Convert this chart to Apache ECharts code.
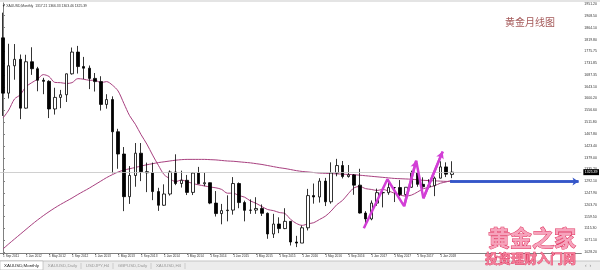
<!DOCTYPE html>
<html><head><meta charset="utf-8">
<script src="https://cdn.jsdelivr.net/npm/echarts@6/dist/echarts.min.js"></script>
<style>html,body{margin:0;padding:0;background:#fff}#c{width:600px;height:270px}</style>
</head><body><div id="c"></div>
<script>
const months = ["1 Sep 2011","1 Oct 2011","1 Nov 2011","1 Dec 2011","1 Jan 2012","1 Feb 2012","1 Mar 2012","1 Apr 2012","1 May 2012","1 Jun 2012","1 Jul 2012","1 Aug 2012","1 Sep 2012","1 Oct 2012","1 Nov 2012","1 Dec 2012","1 Jan 2013","1 Feb 2013","1 Mar 2013","1 Apr 2013","1 May 2013","1 Jun 2013","1 Jul 2013","1 Aug 2013","1 Sep 2013","1 Oct 2013","1 Nov 2013","1 Dec 2013","1 Jan 2014","1 Feb 2014","1 Mar 2014","1 Apr 2014","1 May 2014","1 Jun 2014","1 Jul 2014","1 Aug 2014","1 Sep 2014","1 Oct 2014","1 Nov 2014","1 Dec 2014","1 Jan 2015","1 Feb 2015","1 Mar 2015","1 Apr 2015","1 May 2015","1 Jun 2015","1 Jul 2015","1 Aug 2015","1 Sep 2015","1 Oct 2015","1 Nov 2015","1 Dec 2015","1 Jan 2016","1 Feb 2016","1 Mar 2016","1 Apr 2016","1 May 2016","1 Jun 2016","1 Jul 2016","1 Aug 2016","1 Sep 2016","1 Oct 2016","1 Nov 2016","1 Dec 2016","1 Jan 2017","1 Feb 2017","1 Mar 2017","1 Apr 2017","1 May 2017","1 Jun 2017","1 Jul 2017","1 Aug 2017","1 Sep 2017","1 Oct 2017","1 Nov 2017","1 Dec 2017","1 Jan 2018","1 Feb 2018","1 Mar 2018"];
const opens  = [1826,1620,1722,1746,1564,1737,1711,1668,1664,1561,1604,1614,1692,1773,1719,1713,1675,1663,1578,1596,1476,1393,1234,1313,1396,1327,1323,1253,1202,1244,1326,1283,1295,1250,1322,1282,1286,1210,1171,1182,1184,1283,1212,1183,1184,1190,1172,1095,1132,1115,1142,1065,1061,1118,1238,1233,1292,1215,1322,1350,1309,1315,1277,1173,1151,1210,1249,1249,1268,1268,1242,1269,1322,1280,1271,1275,1303,1345,1317];
const highs  = [1920,1804,1803,1764,1763,1791,1718,1677,1668,1640,1632,1693,1790,1796,1755,1723,1695,1683,1616,1608,1487,1419,1348,1434,1434,1361,1361,1267,1280,1332,1392,1331,1315,1325,1345,1323,1287,1255,1207,1239,1307,1287,1219,1224,1232,1205,1175,1170,1157,1191,1142,1088,1126,1263,1283,1303,1304,1362,1375,1367,1352,1318,1338,1180,1220,1264,1261,1295,1270,1296,1269,1331,1357,1306,1299,1309,1366,1362,1366];
const lows   = [1535,1600,1670,1523,1562,1688,1627,1616,1527,1540,1564,1587,1689,1693,1672,1635,1626,1555,1562,1321,1338,1180,1207,1271,1292,1251,1221,1181,1200,1238,1277,1268,1240,1240,1281,1273,1206,1160,1131,1142,1167,1191,1142,1170,1170,1162,1077,1080,1098,1113,1052,1046,1061,1108,1208,1212,1199,1208,1310,1302,1305,1241,1171,1122,1146,1200,1194,1241,1214,1236,1205,1267,1271,1261,1264,1236,1302,1307,1303];
const closes = [1620,1722,1746,1564,1737,1711,1668,1664,1561,1604,1614,1692,1773,1719,1713,1675,1663,1578,1596,1476,1393,1234,1313,1396,1327,1323,1253,1202,1244,1326,1283,1295,1250,1322,1282,1286,1210,1171,1182,1184,1283,1212,1183,1184,1190,1172,1095,1132,1115,1142,1065,1061,1118,1238,1233,1292,1215,1322,1350,1309,1315,1277,1173,1151,1210,1249,1249,1268,1268,1242,1269,1322,1280,1271,1275,1303,1345,1318,1325.39];
const maFast = [1527,1557,1598,1614,1644,1659,1672,1689,1682,1660,1659,1656,1659,1674,1672,1668,1668,1659,1663,1650,1628,1582,1536,1504,1465,1430,1389,1351,1316,1301,1290,1296,1290,1283,1278,1274,1270,1267,1261,1247,1247,1238,1232,1218,1209,1197,1186,1182,1175,1171,1149,1134,1127,1133,1137,1149,1161,1180,1204,1220,1245,1267,1272,1264,1261,1257,1261,1255,1247,1240,1236,1240,1251,1263,1269,1275,1284,1289,1295];
const maSlow = [1039,1058,1076,1094,1112,1130,1147,1163,1178,1192,1205,1217,1229,1242,1254,1266,1279,1292,1305,1316,1326,1333,1338,1343,1348,1353,1357,1361,1364,1367,1370,1372,1373,1373,1373,1373,1372,1371,1369,1367,1366,1364,1362,1360,1357,1354,1350,1346,1342,1339,1335,1331,1328,1326,1324,1322,1321,1320,1319,1318,1317,1316,1314,1312,1310,1308,1306,1304,1302,1301,1300,1299,1297,1295,1294,1293,1292,1291,1291];
const yTicks = [1028.20,1071.10,1115.30,1159.50,1203.70,1247.90,1292.10,1335.20,1379.00,1423.40,1467.80,1511.80,1556.60,1600.20,1643.10,1687.35,1731.85,1775.75,1819.80,1864.10,1908.50,1951.20];
const zigX = [62.7, 66.8, 69.7, 71.8, 73.05, 76.4];
const zigY = [1116, 1299, 1199, 1368, 1228, 1402];
const arrowX = [77.7, 100];
const arrowY = [1290.6, 1290.6];
const lastPrice = 1325.39;
const emptySlots = 22;
const titleText = '▼ XAUUSD,Monthly  1317.21 1366.33 1303.46 1325.39';
const tabs = ['XAUUSD,Monthly','XAUUSD,Daily','USDJPY,H4','GBPUSD,Daily','XAUUSD,H4'];

const xCats = months.concat(new Array(emptySlots).fill(''));
const nSlots = xCats.length;
const candles = opens.map((o,i)=>[o, closes[i], lows[i], highs[i]]);
const showIdx = (idx, val) => idx % 4 === 0 && val !== '';
const zig = zigX.map((x,i)=>[x, zigY[i]]);
const blue = arrowX.map((x,i)=>[x, arrowY[i]]);
const F = '"Liberation Sans", Arial, sans-serif';

const tabX = [0, 44, 82, 114, 152];
const tabW = [43, 37, 31, 37, 33];
const tabG = [];
tabG.push({type:'rect', shape:{x:0,y:261,width:600,height:9}, style:{fill:'#ececec'}});
tabG.push({type:'line', shape:{x1:0,y1:261,x2:600,y2:261}, style:{stroke:'#c4c4c4',lineWidth:1}});
tabs.forEach((t,i)=>{
  if(i===0) tabG.push({type:'rect', shape:{x:tabX[i],y:261,width:tabW[i],height:9}, style:{fill:'#fff',stroke:'#b0b0b0',lineWidth:0.6}});
  else tabG.push({type:'line', shape:{x1:tabX[i]+tabW[i],y1:263,x2:tabX[i]+tabW[i],y2:269}, style:{stroke:'#b8b8b8',lineWidth:0.6}});
  tabG.push({type:'text', x:tabX[i]+tabW[i]/2, y:266, style:{text:t, fill:i===0?'#222':'#999', font:'4.4px '+F, align:'center', verticalAlign:'middle'}});
});
tabG.push({type:'text', x:588, y:266, style:{text:'‹  ›', fill:'#888', font:'5px '+F, align:'center', verticalAlign:'middle'}});

const chart = echarts.init(document.getElementById('c'), null, {renderer:'canvas'});
chart.setOption({
  animation:false,
  backgroundColor:'#fff',
  grid:{left:-2, right:18, top:3, bottom:17, show:false},
  xAxis:[
    {type:'category', data:xCats, boundaryGap:true,
     axisLine:{show:true, lineStyle:{color:'#808080', width:1}},
     axisTick:{show:true, interval:showIdx, alignWithLabel:true, length:2, lineStyle:{color:'#808080'}},
     axisLabel:{show:true, interval:showIdx, align:'left', fontSize:3.2, fontFamily:F, color:'#333', margin:2},
     splitLine:{show:false}},
    {type:'value', min:-0.5, max:nSlots-0.5, show:false, gridIndex:0}
  ],
  yAxis:{type:'value', position:'right', min:1024, max:1956, scale:true,
     axisLine:{show:true, lineStyle:{color:'#808080', width:1}},
     axisTick:{show:true, length:2, customValues:yTicks, lineStyle:{color:'#808080'}},
     axisLabel:{show:true, customValues:yTicks, fontSize:3.5, fontFamily:F, color:'#333', margin:3, formatter:v=>v.toFixed(2)},
     splitLine:{show:false}},
  series:[
    {type:'line', data:maSlow, xAxisIndex:0, symbol:'none', smooth:0.3, lineStyle:{color:'#a8407f', width:1}, z:2},
    {type:'line', data:maFast, xAxisIndex:0, symbol:'none', smooth:0.3, lineStyle:{color:'#a8407f', width:1}, z:2},
    {type:'candlestick', data:candles, xAxisIndex:0, barWidth:3,
     itemStyle:{color:'#fff', color0:'#000', borderColor:'#000', borderColor0:'#000', borderWidth:0.8},
     markLine:{silent:true, symbol:'none', data:[{yAxis:lastPrice}],
       lineStyle:{color:'#c4c4c4', width:0.8, type:'solid'},
       label:{show:true, position:'end', formatter:lastPrice.toFixed(2), backgroundColor:'#000', color:'#fff', fontSize:3.5, fontFamily:F, padding:[1,1.5], distance:2}},
     z:3},
    {type:'line', data:zig, xAxisIndex:1, symbol:'none', lineStyle:{color:'#d23fd6', width:2.5}, z:5,
     markLine:{silent:true, symbol:['none','arrow'], symbolSize:[6,7],
       lineStyle:{color:'#d23fd6', width:2.5, type:'solid'}, label:{show:false},
       data:[[{coord:zig[2]},{coord:zig[3]}],[{coord:zig[4]},{coord:zig[5]}]]}},
    {type:'line', data:blue, xAxisIndex:1, symbol:'none', lineStyle:{color:'#3456c8', width:2.5}, z:5,
     markLine:{silent:true, symbol:['none','arrow'], symbolSize:[6,6],
       lineStyle:{color:'#3456c8', width:2.5, type:'solid'}, label:{show:false},
       data:[[{coord:blue[0]},{coord:blue[1]}]]}}
  ],
  graphic:[
    {type:'rect', shape:{x:0,y:0,width:600,height:2}, style:{fill:'#e4e4e4'}, z:50},
    {type:'text', x:2, y:6, style:{text:titleText, fill:'#333', font:'3.4px '+F, verticalAlign:'middle'}, z:50},
    {type:'text', x:505, y:22, style:{text:'黄金月线图', fill:'#a45858', font:'10px "Noto Sans CJK SC"', verticalAlign:'middle'}, z:50},
    ...tabG.map(g=>Object.assign({z:60}, g)),
    {type:'text', x:488, y:238, style:{text:'黄金之家', fill:'#f6a3bc', stroke:'#e0335f', lineWidth:1, font:'bold 22px "Noto Sans CJK SC"', verticalAlign:'middle'}, z:100},
    {type:'text', x:485, y:258, style:{text:'投资理财入门网', fill:'#f47a96', stroke:'#d4204f', lineWidth:0.6, font:'bold 13px "Noto Sans CJK SC"', verticalAlign:'middle'}, z:100}
  ]
});
</script></body></html>
